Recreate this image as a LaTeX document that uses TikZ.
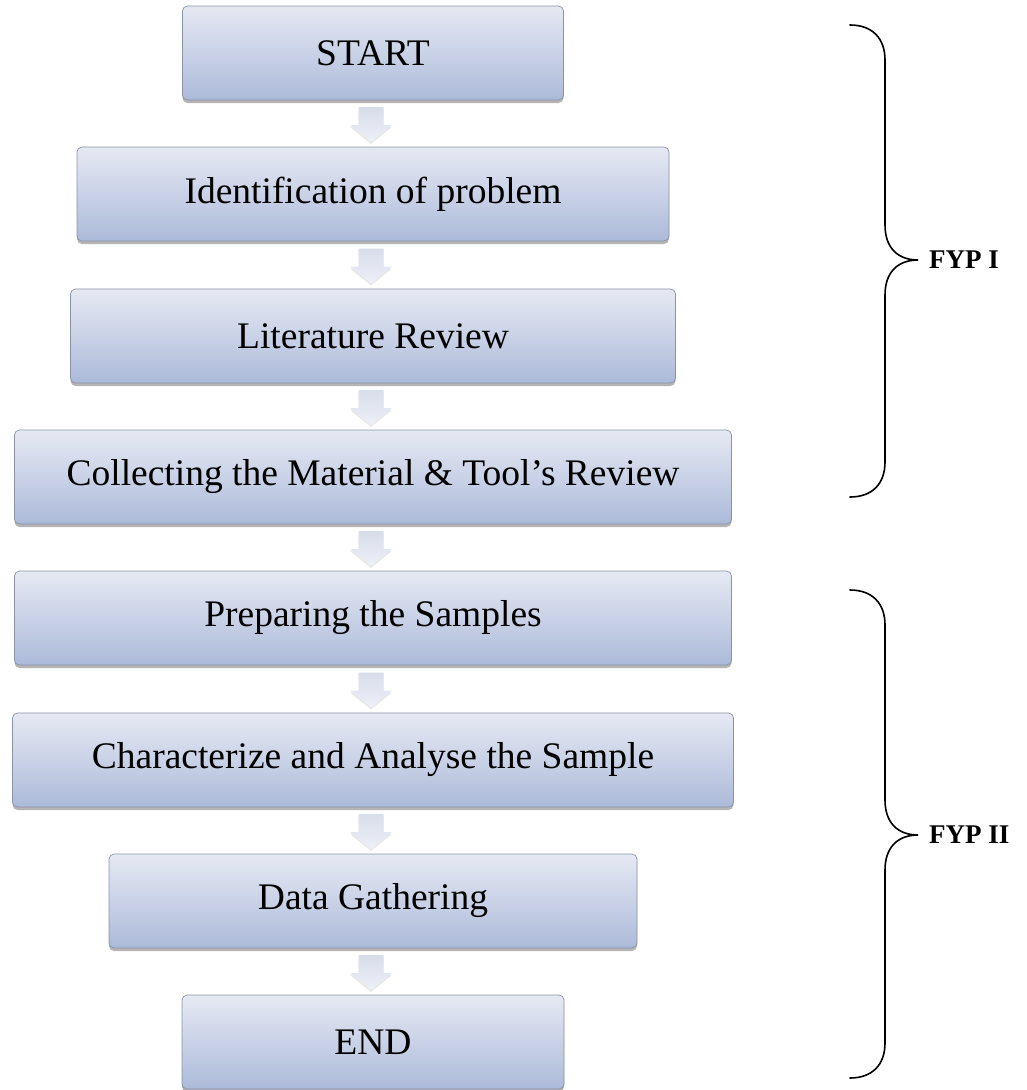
\documentclass[tikz,border=0pt]{standalone}
\usepackage{fontspec}
\setmainfont{Liberation Serif}
\usetikzlibrary{shadows}

\tikzset{
	stepbox/.style={draw={rgb,255:red,138;green,146;blue,165}, line width=0.7pt, rounded corners=5pt,
		top color={rgb,255:red,230;green,233;blue,243}, bottom color={rgb,255:red,172;green,186;blue,218},
		minimum height=94pt, inner sep=0pt, font=\fontsize{37.5}{40}\selectfont,
		drop shadow={shadow xshift=0pt, shadow yshift=-3pt, opacity=0.45, fill={rgb,255:red,90;green,90;blue,90}}},
	downarr/.style={top color={rgb,255:red,216;green,221;blue,235}, bottom color={rgb,255:red,238;green,240;blue,247},
		drop shadow={shadow xshift=0pt, shadow yshift=-2pt, opacity=0.18}},
	phase/.style={anchor=west, inner sep=0pt, font=\fontsize{27}{29}\selectfont\bfseries},
	brace/.style={line width=1.6pt, line cap=round},
}

\begin{document}
\begin{tikzpicture}[x=1pt,y=1pt,yscale=-1,xscale=1]
	\useasboundingbox (0,0) rectangle (1027,1090);
	% flow boxes
	\node[stepbox, minimum width=381pt] (start) at (373,53) {START};
	\node[stepbox, minimum width=592pt] (ident) at (373,194) {Identification of problem};
	\node[stepbox, minimum width=605pt] (litrev) at (373,336) {Literature Review};
	\node[stepbox, minimum width=717pt] (collect) at (373,477) {Collecting the Material \& Tool's Review};
	\node[stepbox, minimum width=717pt] (prep) at (373,618) {Preparing the Samples};
	\node[stepbox, minimum width=721pt] (charac) at (373,760) {Characterize and Analyse the Sample};
	\node[stepbox, minimum width=528pt] (datag) at (373,901) {Data Gathering};
	\node[stepbox, minimum width=382pt] (finish) at (373,1042) {END};
	% block arrows between boxes
	\foreach \y in {124.5,266,407.5,548.5,690,831.5,972.5}
		\path[downarr] (358.5,\y-17.5) -- (383.5,\y-17.5) -- (383.5,\y+0.5) -- (392,\y+0.5) -- (371,\y+17.5) -- (350,\y+0.5) -- (358.5,\y+0.5) -- cycle;
	% braces
	\draw[brace] (850,25) .. controls (872,25) and (885,38) .. (885,60) -- (885,225) .. controls (885,248) and (898,260) .. (918,260) .. controls (898,260) and (885,272) .. (885,295) -- (885,462) .. controls (885,484) and (872,497) .. (850,497);
	\draw[brace] (850,590) .. controls (872,590) and (885,603) .. (885,625) -- (885,800) .. controls (885,823) and (898,835) .. (918,835) .. controls (898,835) and (885,847) .. (885,870) -- (885,1043) .. controls (885,1065) and (872,1078) .. (850,1078);
	\node[phase] (fypone) at (929,260) {FYP I};
	\node[phase] (fyptwo) at (929,835) {FYP II};
\end{tikzpicture}
\end{document}
